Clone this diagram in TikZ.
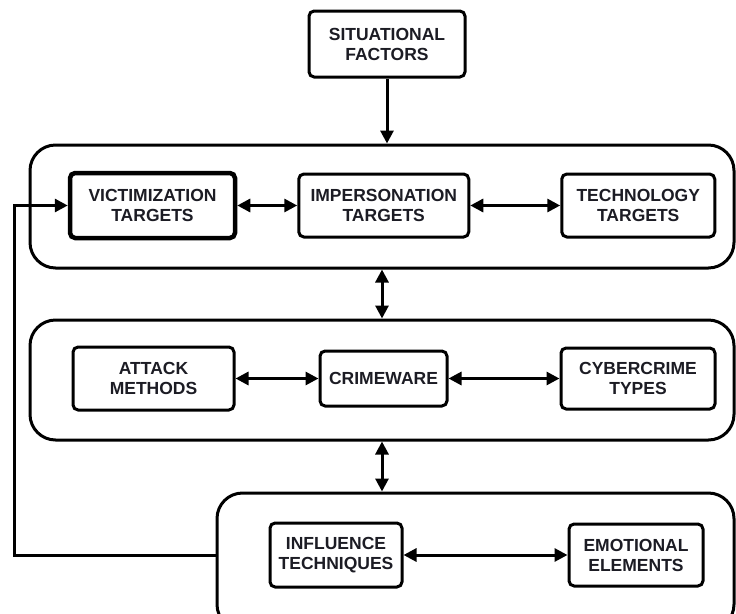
\documentclass[tikz,border=0pt]{standalone}
\usepackage{fontspec}
\usepackage{tikz}
\usetikzlibrary{arrows.meta,positioning}
\newfontfamily\diagfont{Liberation Sans}
\definecolor{CrimeInk}{HTML}{1C1C24}
\definecolor{CrimeLine}{HTML}{000000}
\tikzset{
  cbox/.style={draw=CrimeLine,rounded corners=1.8mm,fill=white,line width=3pt,
    align=center,inner sep=2pt,text=CrimeInk,
    font=\diagfont\fontsize{17.5}{20}\selectfont\bfseries},
  cpanel/.style={draw=CrimeLine,rounded corners=9mm,line width=3pt},
  carrow/.style={-{Triangle[length=13pt,width=13pt]},line width=3pt,CrimeLine},
  cdarrow/.style={{Triangle[length=13pt,width=13pt]}-{Triangle[length=13pt,width=13pt]},
    line width=3pt,CrimeLine}
}
\begin{document}
\begin{tikzpicture}[x=1pt,y=-1pt]
  \useasboundingbox (0,0) rectangle (736,613);
  \clip (0,0) rectangle (736,613);

  % panels
  \node[cpanel,minimum width=704pt,minimum height=123pt] (targets) at (382,206.5) {};
  \node[cpanel,minimum width=704pt,minimum height=120pt] (means) at (382,380) {};
  \node[cpanel,minimum width=517pt,minimum height=137pt] (human) at (475.5,561.5) {};

  \node[cbox,minimum width=156pt,minimum height=66pt] (situational) at (387,44)
    {SITUATIONAL\\FACTORS};

  % targets
  \node[cbox,line width=4.5pt,minimum width=165pt,minimum height=65pt] (victim) at (152.5,205.5)
    {VICTIMIZATION\\TARGETS};
  \node[cbox,minimum width=170pt,minimum height=63pt,right=60pt of victim] (imperson)
    {IMPERSONATION\\TARGETS};
  \node[cbox,minimum width=153pt,minimum height=63pt,right=90pt of imperson] (techno)
    {TECHNOLOGY\\TARGETS};

  % means
  \node[cbox,minimum width=161pt,minimum height=63pt] (attack) at (153.5,378.5)
    {ATTACK\\METHODS};
  \node[cbox,minimum width=127pt,minimum height=55pt,right=83pt of attack] (crimeware)
    {CRIMEWARE};
  \node[cbox,minimum width=154pt,minimum height=61pt,right=111pt of crimeware] (cybertypes)
    {CYBERCRIME\\TYPES};

  % human factors
  \node[cbox,minimum width=132pt,minimum height=64pt] (influence) at (336,555)
    {INFLUENCE\\TECHNIQUES};
  \node[cbox,minimum width=134pt,minimum height=62pt,right=164pt of influence] (emotional)
    {EMOTIONAL\\ELEMENTS};

  \coordinate (back) at (14,0);

  \draw[carrow] (situational.south) -- (situational.south |- targets.north);
  \draw[cdarrow] (victim) -- (imperson);
  \draw[cdarrow] (imperson) -- (techno);
  \draw[cdarrow] (attack) -- (crimeware);
  \draw[cdarrow] (crimeware) -- (cybertypes);
  \draw[cdarrow] (influence) -- (emotional);
  \draw[cdarrow] (targets.south) -- (means.north);
  \draw[cdarrow] (means.south) -- (means.south |- human.north);
  \draw[carrow] (human.west |- influence) -- (back |- influence) |- (victim.west);
\end{tikzpicture}
\end{document}
